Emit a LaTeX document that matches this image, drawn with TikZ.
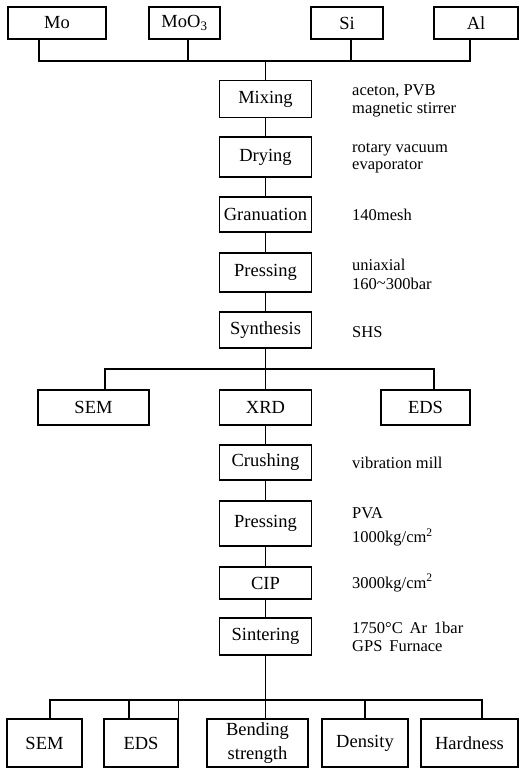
\documentclass[tikz,border=0pt]{standalone}
\usepackage{fontspec}
\setmainfont{Liberation Serif}
\begin{document}
\begin{tikzpicture}[x=1pt,y=-1pt,
  box/.style={draw, line width=1.1pt, inner sep=0pt, minimum width=92pt, font=\fontsize{18.5}{20}\selectfont, align=center},
  note/.style={anchor=west, inner sep=0pt, align=left, font=\fontsize{16.5}{17.5}\selectfont},
  conn/.style={line width=1.1pt}]
\useasboundingbox (0,0) rectangle (519,770);
% top inputs
\node[box, minimum width=98pt, minimum height=32pt] (Mo) at (57,23) {Mo};
\node[box, minimum width=71pt, minimum height=32pt] (MoO) at (184.5,23) {MoO\textsubscript{3}};
\node[box, minimum width=72pt, minimum height=32pt] (Si) at (347,23) {Si};
\node[box, minimum width=84pt, minimum height=32pt] (Al) at (476,23) {Al};
% main column
\node[box, minimum height=37pt] (Mix) at (265.5,99) {Mixing};
\node[box, minimum height=40pt] (Dry) at (265.5,157) {Drying};
\node[box, minimum height=35pt] (Gran) at (265.5,214.5) {Granuation};
\node[box, minimum height=39pt] (Pres) at (265.5,272.5) {Pressing};
\node[box, minimum height=36pt] (Syn) at (265.5,330) {Synthesis};
\node[box, minimum width=111pt, minimum height=35pt] (SEMa) at (93.5,407.5) {SEM};
\node[box, minimum height=35pt] (XRD) at (265.5,407.5) {XRD};
\node[box, minimum width=89pt, minimum height=35pt] (EDSa) at (425.5,407.5) {EDS};
\node[box, minimum height=35pt] (Crush) at (265.5,462.5) {Crushing};
\node[box, minimum height=45pt] (PresB) at (265.5,523.5) {Pressing};
\node[box, minimum height=32pt] (CIP) at (265.5,583) {CIP};
\node[box, minimum height=37pt] (Sint) at (265.5,636.5) {Sintering};
% bottom row
\node[box, minimum width=75pt, minimum height=48pt] (SEMb) at (44.5,743) {SEM};
\node[box, minimum width=74pt, minimum height=48pt] (EDSb) at (141,743) {EDS};
\node[box, minimum width=101pt, minimum height=48pt, font=\fontsize{18.5}{24}\selectfont] (Bend) at (257.5,743) {Bending\\strength};
\node[box, minimum width=86pt, minimum height=48pt] (Dens) at (365,743) {Density};
\node[box, minimum width=97pt, minimum height=48pt] (Hard) at (469.5,743) {Hardness};
% notes
\node[note] (nMix) at (352,101) {aceton, PVB\\magnetic stirrer};
\node[note] (nDry) at (352,158) {rotary vacuum\\evaporator};
\node[note] (nGran) at (352,215) {140mesh};
\node[note, font=\fontsize{16.5}{19}\selectfont] (nPres) at (352,274) {uniaxial\\160\raisebox{1pt}{\textasciitilde}300bar};
\node[note] (nSyn) at (352,332) {SHS};
\node[note] (nCrush) at (352,463) {vibration mill};
\node[note, font=\fontsize{16.5}{24}\selectfont] (nPresB) at (352,527) {PVA\\1000kg/cm\textsuperscript{2}};
\node[note] (nCIP) at (352,583) {3000kg/cm\textsuperscript{2}};
\node[note] (nSint) at (352,637) {1750°C\, Ar\, 1bar\\GPS\, Furnace};
% junctions
\coordinate (j1) at (265.5,61);
\coordinate (j2) at (265.5,369);
\coordinate (j3) at (265.5,700);
% connectors top
\draw[conn] ([xshift=-18pt]Mo.south) |- (j1);
\draw[conn] ([xshift=3.5pt]MoO.south) |- (j1);
\draw[conn] ([xshift=4pt]Si.south) |- (j1);
\draw[conn] ([xshift=-6pt]Al.south) |- (j1);
\draw[conn] (j1) -- (Mix.north);
\draw[conn] (Mix) -- (Dry);
\draw[conn] (Dry) -- (Gran);
\draw[conn] (Gran) -- (Pres);
\draw[conn] (Pres) -- (Syn);
\draw[conn] (Syn) -- (XRD);
\draw[conn] ([xshift=11.5pt]SEMa.north) |- (j2) -| ([xshift=8.5pt]EDSa.north);
\draw[conn] (XRD) -- (Crush);
\draw[conn] (Crush) -- (PresB);
\draw[conn] (PresB) -- (CIP);
\draw[conn] (CIP) -- (Sint);
\draw[conn] (Sint) -- (j3) -- ([xshift=8pt]Bend.north);
\draw[conn] ([xshift=5.5pt]SEMb.north) |- (j3) -| ([xshift=12.5pt]Hard.north);
\draw[conn] ([xshift=-12pt]EDSb.north) -- ([xshift=-12pt]EDSb.north |- j3);
\draw[conn] (EDSb.north east) -- (EDSb.north east |- j3);
\draw[conn] (Dens.north) -- (Dens.north |- j3);
\end{tikzpicture}
\end{document}
